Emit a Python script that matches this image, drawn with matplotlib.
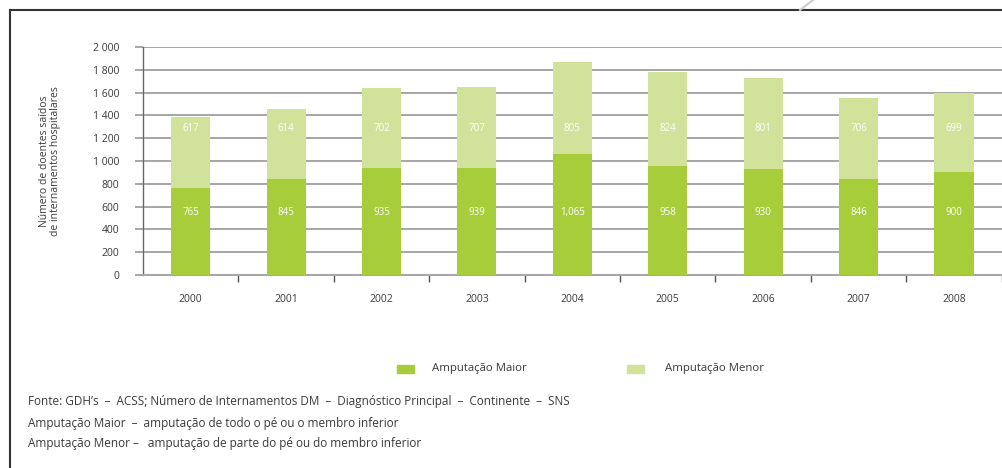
import matplotlib
matplotlib.use("Agg")
import matplotlib.pyplot as plt
from matplotlib.lines import Line2D
from matplotlib.patches import Rectangle

plt.rcParams['font.family'] = ['Open Sans', 'DejaVu Sans']

# Amputações por ano (doentes saídos de internamentos hospitalares)
years = ["2000", "2001", "2002", "2003", "2004", "2005", "2006", "2007", "2008"]
maior = [765, 845, 935, 939, 1065, 958, 930, 846, 900]
menor = [617, 614, 702, 707, 805, 824, 801, 706, 699]
y_ticks = list(range(0, 2001, 200))

dark_green = "#a8cd3a"
light_green = "#d1e39b"
text_col = "#3a3a3a"
grid_col = "#a6a6a6"

fig = plt.figure(figsize=(10.02, 4.68), dpi=100)
ax = fig.add_axes([143 / 1002, 1 - 275 / 468, (1001.7 - 143) / 1002, 228 / 468])

x = range(len(years))
ax.bar(x, maior, width=0.41, color=dark_green, zorder=3)
ax.bar(x, menor, width=0.41, bottom=maior, color=light_green, zorder=3)

# value labels sit at fixed heights inside each segment
for i in x:
    ax.text(i, 544, f"{maior[i]:,}", ha="center", va="center", color="white", fontsize=7, zorder=4)
    ax.text(i, 1289, f"{menor[i]:,}", ha="center", va="center", color="white", fontsize=7, zorder=4)

ax.set_xlim(-0.5, len(years) - 0.5)
ax.set_ylim(0, 2000)
ax.set_yticks(y_ticks)
ax.set_yticklabels([f"{v:,}".replace(",", " ") for v in y_ticks], fontsize=7.5, color=text_col)
ax.yaxis.grid(True, color=grid_col, linewidth=1.4, zorder=0)
ax.tick_params(axis="y", length=6, width=1.4, color=grid_col, pad=11)

# x ticks sit on the category boundaries, labels centred below each bar
ax.set_xticks([i + 0.5 for i in x])
ax.set_xticklabels([])
ax.set_xticks(list(x), minor=True)
ax.set_xticklabels(years, minor=True, fontsize=7.5, color=text_col)
ax.tick_params(axis="x", which="major", length=5, width=1, color="#555555", direction="out")
ax.tick_params(axis="x", which="minor", length=0, pad=14)

for s in ["top", "right"]:
    ax.spines[s].set_visible(False)
ax.spines["left"].set_color("#666666")
ax.spines["left"].set_linewidth(1)
ax.spines["bottom"].set_color(grid_col)
ax.spines["bottom"].set_linewidth(1.4)

ax.set_ylabel("Número de doentes saídos\nde internamentos hospitalares", fontsize=7.5, color=text_col,
              labelpad=23, linespacing=1.05)

# legend
fig.patches.append(Rectangle((397 / 1002, 1 - 373 / 468), 17 / 1002, 8 / 468,
                             transform=fig.transFigure, color=dark_green))
fig.text(432 / 1002, 1 - 369 / 468, "Amputação Maior", fontsize=8.2, color=text_col, va="center")
fig.patches.append(Rectangle((627 / 1002, 1 - 373 / 468), 17 / 1002, 8 / 468,
                             transform=fig.transFigure, color=light_green))
fig.text(665 / 1002, 1 - 369 / 468, "Amputação Menor", fontsize=8.2, color=text_col, va="center")

notes = [
    (402, "Fonte: GDH’s  –  ACSS; Número de Internamentos DM  –  Diagnóstico Principal  –  Continente  –  SNS"),
    (423, "Amputação Maior  –  amputação de todo o pé ou o membro inferior"),
    (444, "Amputação Menor –   amputação de parte do pé ou do membro inferior"),
]
for ypx, txt in notes:
    fig.text(28 / 1002, 1 - ypx / 468, txt, fontsize=8.5, color=text_col, va="center")

# page frame
fig.add_artist(Line2D([10 / 1002, 10 / 1002], [0, 1 - 10 / 468], color="#333333", linewidth=1.5))
fig.add_artist(Line2D([10 / 1002, 1], [1 - 10 / 468, 1 - 10 / 468], color="#333333", linewidth=1.5))
fig.add_artist(Line2D([800 / 1002, 813 / 1002], [1 - 10 / 468, 1], color="#cccccc", linewidth=1.5))

fig.savefig("out.png", dpi=100)
